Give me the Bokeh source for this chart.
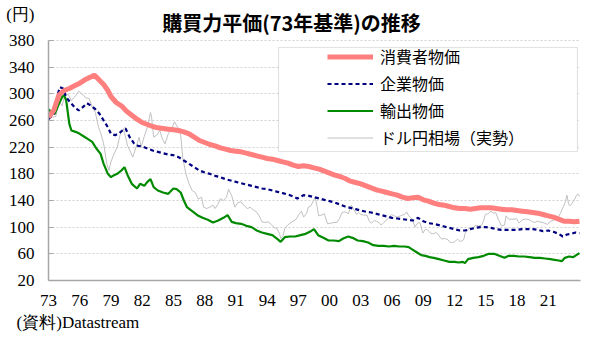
from bokeh.plotting import figure
from bokeh.models import (Range1d, FixedTicker, Label, Legend, LegendItem,
                          BoxAnnotation, LinearAxis)
from bokeh.embed import file_html
from bokeh.resources import INLINE

# ---------------- data ----------------
cpi_years = [1973.0, 1973.5, 1974.0, 1974.5, 1975.0, 1975.5, 1976.0, 1976.5, 1977.0, 1977.4,
             1977.8, 1978.3, 1978.7, 1979.0, 1979.5, 1980.0, 1980.5, 1981.0, 1981.5, 1982.0,
             1982.5, 1983.0, 1983.5, 1984.0, 1984.5, 1985.0, 1985.5, 1986.0, 1986.5, 1987.0,
             1987.5, 1988.0, 1988.5, 1989.0, 1989.5, 1990.0, 1990.5, 1991.0, 1991.5, 1992.0,
             1992.5, 1993.0, 1993.5, 1994.0, 1994.5, 1995.0, 1995.5, 1996.0, 1996.5, 1997.0,
             1997.5, 1998.0, 1998.5, 1999.0, 1999.5, 2000.0, 2000.5, 2001.0, 2001.5, 2002.0,
             2002.5, 2003.0, 2003.5, 2004.0, 2004.5, 2005.0, 2005.5, 2006.0, 2006.5, 2007.0,
             2007.5, 2008.0, 2008.5, 2009.0, 2009.5, 2010.0, 2010.5, 2011.0, 2011.5, 2012.0,
             2012.5, 2013.0, 2013.5, 2014.0, 2014.5, 2015.0, 2015.5, 2016.0, 2016.5, 2017.0,
             2017.5, 2018.0, 2018.5, 2019.0, 2019.5, 2020.0, 2020.5, 2021.0, 2021.5, 2022.0,
             2022.5, 2023.0, 2023.5, 2024.0]
cpi_vals = [265, 275, 298, 305, 308, 312, 316, 321, 325, 328,
            322, 314, 305, 296, 287, 282, 274, 268, 262, 257,
            254, 251, 249, 248, 247, 246, 245, 243, 240, 235,
            230, 227, 224, 222, 219, 217, 215, 214, 213, 211,
            209, 207, 205, 203, 202, 200, 198, 196, 193, 191,
            192, 191, 189, 187, 184, 181, 178, 176, 173, 169,
            167, 165, 162, 159, 156, 154, 152, 150, 148, 145,
            143, 144, 145, 141, 139, 136, 134, 133, 131, 129,
            128, 128, 127, 128, 129, 129, 129, 128, 127, 126,
            126, 125, 124, 123, 122, 121, 119, 117, 115, 112,
            109, 109, 108, 109]

cgpi_years = [1973.0, 1973.5, 1973.9, 1974.1, 1974.4, 1974.7, 1975.1, 1975.5, 1975.9, 1976.3,
              1976.7, 1977.1, 1977.5, 1977.9, 1978.3, 1978.7, 1979.0, 1979.4, 1979.7, 1980.1,
              1980.4, 1980.8, 1981.2, 1981.6, 1982.0, 1982.5, 1983.0, 1983.5, 1984.0, 1984.5,
              1985.0, 1985.5, 1986.0, 1986.5, 1987.0, 1987.5, 1988.0, 1988.5, 1989.0, 1989.5,
              1990.0, 1990.5, 1991.0, 1991.5, 1992.0, 1992.5, 1993.0, 1993.5, 1994.0, 1994.5,
              1995.0, 1995.5, 1996.0, 1996.5, 1996.9, 1997.5, 1998.0, 1998.5, 1999.0, 1999.5,
              2000.0, 2000.5, 2001.0, 2001.5, 2002.0, 2002.5, 2003.0, 2003.5, 2004.0, 2004.5,
              2005.0, 2005.5, 2006.0, 2006.5, 2007.0, 2007.5, 2008.0, 2008.5, 2009.0, 2009.5,
              2010.0, 2010.5, 2011.0, 2011.5, 2012.0, 2012.5, 2013.0, 2013.5, 2014.0, 2014.5,
              2015.0, 2015.5, 2016.0, 2016.5, 2017.0, 2017.5, 2018.0, 2018.5, 2019.0, 2019.5,
              2020.0, 2020.5, 2021.0, 2021.5, 2022.0, 2022.4, 2022.8, 2023.2, 2023.6, 2024.0]
cgpi_vals = [262, 270, 300, 310, 308, 295, 287, 280, 275, 280,
             286, 282, 277, 270, 260, 250, 240, 238, 240, 245,
             248, 235, 226, 222, 221, 218, 215, 213, 211, 209,
             208, 205, 200, 195, 190, 185, 182, 180, 177, 175,
             172, 170, 168, 166, 164, 162, 160, 158, 157, 155,
             153, 151, 149, 146, 143, 148, 147, 145, 143, 141,
             139, 137, 134, 131, 129, 127, 125, 123, 122, 120,
             118, 116, 114, 113, 112, 111, 110, 114, 109, 106,
             105, 103, 101, 99, 97, 95, 95, 97, 99, 100,
             100, 99, 97, 96, 96, 96, 96, 97, 97, 97,
             96, 94, 95, 93, 90, 86, 89, 90, 92, 91]

exp_years = [1973.0, 1973.3, 1973.6, 1974.0, 1974.3, 1974.5, 1974.7, 1975.0, 1975.2, 1975.6,
             1976.0, 1976.4, 1976.8, 1977.2, 1977.6, 1978.0, 1978.3, 1978.7, 1979.0, 1979.3,
             1979.6, 1980.0, 1980.3, 1980.6, 1981.0, 1981.5, 1981.8, 1982.2, 1982.5, 1982.8,
             1983.1, 1983.5, 1984.0, 1984.5, 1985.0, 1985.3, 1985.7, 1986.0, 1986.3, 1986.8,
             1987.3, 1987.8, 1988.3, 1988.8, 1989.3, 1989.8, 1990.2, 1990.6, 1991.0, 1991.5,
             1992.0, 1992.5, 1993.0, 1993.5, 1994.0, 1994.5, 1995.0, 1995.3, 1995.7, 1996.2,
             1996.7, 1997.2, 1997.7, 1998.1, 1998.5, 1998.9, 1999.4, 1999.9, 2000.4, 2000.9,
             2001.3, 2001.8, 2002.2, 2002.7, 2003.2, 2003.7, 2004.2, 2004.7, 2005.2, 2005.7,
             2006.2, 2006.7, 2007.2, 2007.6, 2008.0, 2008.4, 2008.8, 2009.2, 2009.6, 2010.0,
             2010.5, 2011.0, 2011.5, 2012.0, 2012.4, 2012.8, 2013.0, 2013.3, 2013.8, 2014.3,
             2014.8, 2015.3, 2015.8, 2016.3, 2016.8, 2017.2, 2017.7, 2018.2, 2018.7, 2019.2,
             2019.7, 2020.2, 2020.7, 2021.2, 2021.6, 2022.0, 2022.3, 2022.6, 2023.0, 2023.4,
             2023.7, 2024.0]
exp_vals = [277, 272, 270, 285, 295, 298, 290, 255, 245, 243,
            240, 236, 232, 228, 218, 210, 195, 180, 175, 178,
            180, 185, 190, 178, 165, 158, 165, 162, 168, 172,
            160, 155, 152, 150, 158, 157, 152, 140, 130, 124,
            118, 114, 111, 107, 110, 114, 118, 108, 106, 105,
            102, 100, 95, 92, 90, 88, 82, 78, 85, 86,
            86, 88, 90, 93, 97, 88, 84, 80, 80, 79,
            83, 86, 84, 80, 79, 77, 73, 72, 72, 71,
            72, 71, 71, 70, 66, 62, 58, 57, 55, 54,
            52, 50, 48, 48, 47, 48, 46, 52, 54, 55,
            57, 60, 60, 57, 54, 57, 57, 56, 56, 55,
            54, 54, 53, 52, 51, 50, 49, 54, 56, 55,
            58, 61]

fx_years = [1973.0, 1973.3, 1973.7, 1974.0, 1974.3, 1974.6, 1974.9, 1975.2, 1975.6, 1975.9,
            1976.2, 1976.6, 1976.9, 1977.2, 1977.5, 1977.8, 1978.0, 1978.3, 1978.6, 1978.8,
            1979.0, 1979.3, 1979.6, 1979.9, 1980.2, 1980.4, 1980.6, 1980.9, 1981.1, 1981.4,
            1981.7, 1981.9, 1982.2, 1982.5, 1982.8, 1982.9, 1983.1, 1983.4, 1983.7, 1983.9,
            1984.2, 1984.5, 1984.8, 1985.1, 1985.4, 1985.7, 1985.9, 1986.2, 1986.5, 1986.8,
            1987.1, 1987.4, 1987.7, 1987.9, 1988.2, 1988.5, 1988.8, 1989.0, 1989.3, 1989.5,
            1989.8, 1990.1, 1990.3, 1990.6, 1990.9, 1991.2, 1991.5, 1991.8, 1992.1, 1992.4,
            1992.7, 1992.9, 1993.2, 1993.5, 1993.8, 1994.1, 1994.4, 1994.7, 1994.9, 1995.2,
            1995.3, 1995.5, 1995.7, 1995.9, 1996.2, 1996.5, 1996.8, 1997.0, 1997.3, 1997.5,
            1997.8, 1997.95, 1998.2, 1998.4, 1998.6, 1998.8, 1998.95, 1999.2, 1999.5, 1999.8,
            2000.1, 2000.4, 2000.7, 2000.95, 2001.2, 2001.5, 2001.8, 2001.95, 2002.1, 2002.4,
            2002.6, 2002.8, 2003.0, 2003.3, 2003.6, 2003.8, 2004.0, 2004.3, 2004.5, 2004.8,
            2004.95, 2005.2, 2005.5, 2005.8, 2005.95, 2006.2, 2006.5, 2006.8, 2006.95, 2007.2,
            2007.4, 2007.6, 2007.8, 2007.95, 2008.2, 2008.5, 2008.7, 2008.85, 2008.95, 2009.2,
            2009.4, 2009.7, 2009.95, 2010.2, 2010.4, 2010.6, 2010.8, 2011.0, 2011.3, 2011.6,
            2011.8, 2012.0, 2012.3, 2012.5, 2012.7, 2012.9, 2013.0, 2013.3, 2013.5, 2013.8,
            2014.0, 2014.3, 2014.6, 2014.8, 2014.95, 2015.2, 2015.5, 2015.7, 2015.95, 2016.2,
            2016.5, 2016.8, 2016.95, 2017.2, 2017.5, 2017.8, 2017.95, 2018.2, 2018.5, 2018.8,
            2018.95, 2019.2, 2019.5, 2019.7, 2019.95, 2020.2, 2020.5, 2020.8, 2020.95, 2021.2,
            2021.5, 2021.8, 2021.95, 2022.2, 2022.4, 2022.6, 2022.8, 2022.95, 2023.1, 2023.3,
            2023.5, 2023.7, 2023.85, 2024.0]
fx_vals = [265, 265, 266, 290, 282, 300, 299, 290, 297, 304,
           300, 294, 293, 280, 272, 250, 242, 225, 195, 185,
           198, 210, 220, 240, 248, 235, 222, 212, 205, 220,
           235, 220, 236, 250, 272, 265, 235, 238, 245, 234,
           225, 240, 246, 258, 250, 238, 203, 180, 165, 155,
           152, 142, 145, 130, 128, 130, 133, 128, 135, 143,
           140, 145, 157, 147, 130, 137, 138, 132, 128, 130,
           125, 124, 118, 108, 107, 108, 104, 99, 99, 90,
           83, 86, 98, 102, 106, 109, 112, 118, 124, 115,
           121, 130, 132, 138, 145, 131, 117, 118, 120, 105,
           106, 107, 107, 113, 122, 123, 120, 127, 133, 124,
           119, 122, 119, 118, 118, 109, 106, 110, 109, 106,
           103, 107, 111, 117, 119, 117, 115, 117, 118, 119,
           123, 117, 114, 112, 100, 107, 106, 97, 91, 97,
           96, 91, 90, 92, 90, 85, 82, 83, 82, 77,
           77, 78, 82, 79, 79, 82, 90, 97, 99, 98,
           103, 102, 103, 110, 119, 120, 124, 121, 122, 112,
           102, 103, 117, 112, 112, 112, 113, 106, 111, 112,
           112, 111, 108, 107, 109, 108, 107, 105, 104, 109,
           110, 114, 114, 122, 129, 136, 148, 135, 132, 136,
           141, 147, 150, 146]

series_names = ["消費者物価", "企業物価", "輸出物価", "ドル円相場（実勢）"]
tick_years = list(range(1973, 2022, 3))
tick_labels = ["73", "76", "79", "82", "85", "88", "91", "94", "97", "00",
               "03", "06", "09", "12", "15", "18", "21"]
y_ticks = [20, 60, 100, 140, 180, 220, 260, 300, 340, 380]
title_text = "購買力平価(73年基準)の推移"
unit_text = "(円)"
source_text = "(資料)Datastream"

serif = "Liberation Serif"
cjk = "Noto Sans CJK JP"

# layout constants (pixel anchors, not data)
FRAME_H = 280                     # frame spans canvas y 0..280
Y_PER_PX = 1.5                    # 360 units over 240 px
Y_TOP = y_ticks[0] + FRAME_H * Y_PER_PX
UNIT_POS = y_ticks[0] + (FRAME_H - 14) * Y_PER_PX   # where "(円)" sits
SOURCE_POS = 1975.83                                  # centre of source note

p = figure(width=600, height=339, output_backend="svg", toolbar_location=None,
           x_range=Range1d(1973, 2024.1), y_range=Range1d(y_ticks[0], Y_TOP),
           min_border_left=48, min_border_right=20, min_border_top=0,
           min_border_bottom=339 - FRAME_H)
p.title.visible = False
p.outline_line_color = None
p.background_fill_color = "white"
p.border_fill_color = "white"

p.xgrid.visible = False
p.ygrid.ticker = FixedTicker(ticks=y_ticks)
p.ygrid.grid_line_color = "#d0d0d0"
p.ygrid.grid_line_dash = "2 2"
p.ygrid.grid_line_width = 1

# y axis 1 (closest to frame): the axis line only, bounded to 20..380
ax_line = p.left[0]
ax_line.ticker = FixedTicker(ticks=[])
ax_line.bounds = (y_ticks[0], y_ticks[-1])
ax_line.axis_line_color = "#a6a6a6"
ax_line.axis_line_width = 1.5
ax_line.major_tick_line_color = None
ax_line.minor_tick_line_color = None
ax_line.major_tick_in = 0
ax_line.major_tick_out = 0
ax_line.major_label_standoff = 0

# y axis 2: inner ticks (as minor ticks) + tick labels + unit label
ax_lab = LinearAxis(ticker=FixedTicker(ticks=y_ticks + [UNIT_POS], minor_ticks=y_ticks),
                    major_label_overrides={UNIT_POS: unit_text})
ax_lab.axis_line_color = None
ax_lab.major_tick_line_color = None
ax_lab.major_tick_in = 0
ax_lab.major_tick_out = 0
ax_lab.minor_tick_line_color = "#a6a6a6"
ax_lab.minor_tick_line_width = 1.2
ax_lab.minor_tick_in = 5
ax_lab.minor_tick_out = 0
ax_lab.major_label_standoff = 14
ax_lab.major_label_text_font = serif
ax_lab.major_label_text_font_size = "17px"
ax_lab.major_label_text_color = "black"
p.add_layout(ax_lab, "left")

# x axis with year labels
ax_x = p.below[0]
ax_x.ticker = FixedTicker(ticks=tick_years)
ax_x.major_label_overrides = {y: l for y, l in zip(tick_years, tick_labels)}
ax_x.axis_line_color = "#a6a6a6"
ax_x.axis_line_width = 1.5
ax_x.major_tick_line_color = None
ax_x.minor_tick_line_color = None
ax_x.major_tick_in = 0
ax_x.major_tick_out = 0
ax_x.major_label_standoff = 14
ax_x.major_label_text_font = serif
ax_x.major_label_text_font_size = "17px"
ax_x.major_label_text_color = "black"

# second x axis carrying the source note
ax_src = LinearAxis(ticker=FixedTicker(ticks=[SOURCE_POS]),
                    major_label_overrides={SOURCE_POS: source_text})
ax_src.axis_line_color = None
ax_src.major_tick_line_color = None
ax_src.minor_tick_line_color = None
ax_src.major_tick_in = 0
ax_src.major_tick_out = 0
ax_src.major_label_standoff = 4
ax_src.major_label_text_font = serif
ax_src.major_label_text_font_size = "17px"
ax_src.major_label_text_color = "black"
p.add_layout(ax_src, "below")

# data lines
r_fx = p.line(fx_years, fx_vals, line_color="#c0c0c0", line_width=1)
r_exp = p.line(exp_years, exp_vals, line_color="#008a00", line_width=2.2)
r_cgpi = p.line(cgpi_years, cgpi_vals, line_color="#000080", line_width=2.2,
                line_dash="4 3")
r_cpi = p.line(cpi_years, cpi_vals, line_color="#ff7f7f", line_width=5)

# legend box + legend
box = BoxAnnotation(left=230, right=529, top=233, bottom=129,
                    left_units="screen", right_units="screen",
                    top_units="screen", bottom_units="screen",
                    fill_color="white", fill_alpha=1,
                    line_color="#a0a0a0", line_width=1.2)
p.add_layout(box)

legend = Legend(items=[
    LegendItem(label=series_names[0], renderers=[r_cpi]),
    LegendItem(label=series_names[1], renderers=[r_cgpi]),
    LegendItem(label=series_names[2], renderers=[r_exp]),
    LegendItem(label=series_names[3], renderers=[r_fx]),
], location=(279, 131), orientation="vertical")
legend.border_line_alpha = 0
legend.background_fill_alpha = 0
legend.padding = 0
legend.margin = 0
legend.spacing = 3
legend.glyph_width = 46
legend.glyph_height = 23
legend.label_height = 23
legend.label_standoff = 7
legend.label_text_font = cjk
legend.label_text_font_size = "16px"
legend.label_text_color = "black"
p.add_layout(legend)

# title inside the (tall) frame
p.add_layout(Label(x=243, y=FRAME_H - 21.5, x_units="screen", y_units="screen",
                   text=title_text, text_align="center", text_baseline="middle",
                   text_font=cjk, text_font_size="20px", text_font_style="bold",
                   text_color="black"))

open("out.html", "w").write(file_html(p, INLINE))
